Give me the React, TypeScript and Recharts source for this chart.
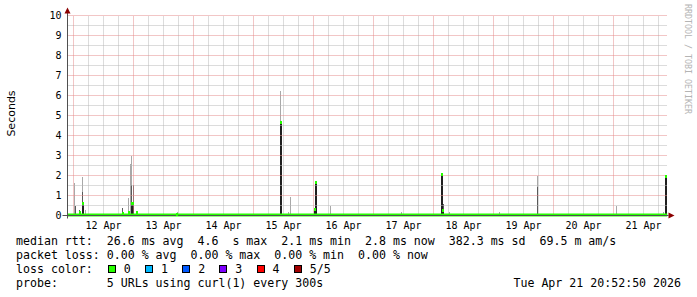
import React from 'react';
import { ComposedChart, Bar, Line, Scatter, XAxis, YAxis, ReferenceLine } from 'recharts';

// time axis in days: 12.0 = 12 Apr 00:00
const TIME_DOMAIN = [11.9, 21.9];
const RTT_DOMAIN = [0, 10];
const DAY_STARTS = [12, 13, 14, 15, 16, 17, 18, 19, 20, 21];
const DAY_LABELS = ['12 Apr', '13 Apr', '14 Apr', '15 Apr', '16 Apr', '17 Apr', '18 Apr', '19 Apr', '20 Apr', '21 Apr'];
const LABEL_TICKS = DAY_STARTS.map((d) => d + 0.5);
const SIX_HOUR_TICKS = DAY_STARTS.flatMap((d) => [d + 0.25, d + 0.5, d + 0.75]);
const Y_TICKS = [0, 1, 2, 3, 4, 5, 6, 7, 8, 9, 10];
const Y_HALF_TICKS = [0.5, 1.5, 2.5, 3.5, 4.5, 5.5, 6.5, 7.5, 8.5, 9.5];

// spikes (seconds)
const sampleTimes = [
  12.017, 12.033, 12.108, 12.15, 12.2, 12.817, 12.917, 12.942, 12.967, 12.992, 13.05, 13.417, 13.733, 15.45, 15.588,
  15.622, 15.867, 16.022, 16.04, 16.288, 17.467, 18.145, 18.16, 18.267, 19.105, 19.728, 21.045, 21.367, 21.838, 21.867,
];
const smokeHigh = [
  1.6, null, null, 1.92, 0.3, null, 0.9, 2.55, 3.0, null, null, 0.1, 0.15, 6.25, 0.15,
  0.92, 0.08, null, null, 0.47, 0.15, null, null, 0.2, 0.2, 2.0, 0.5, 0.1, 0.15, null,
];
const smokeCore = [
  null, 0.5, 0.3, 1.2, null, 0.4, null, null, 1.5, 1.5, 0.2, null, null, null, null,
  null, null, 0.4, null, null, null, null, 0.58, null, null, 1.42, null, null, null, null,
];
const medianRtt = [
  null, null, 0.2, 0.65, null, 0.12, 0.17, null, 0.65, 0.65, 0.15, null, 0.1, 4.67, null,
  null, null, 0.33, 1.67, null, null, 2.08, 0.25, null, null, null, null, null, null, 2.0,
];
const baselineTimes = [11.9, 21.9];
const baselineRtt = [0.027, 0.027];

const LOSS_LABELS = ['0', '1', '2', '3', '4', '5/5'];
const LOSS_COLORS = ['#26ff00', '#00b8ff', '#0059ff', '#7e00ff', '#ff0000', '#a10000'];

const rows = sampleTimes.map((t, i) => ({ t, high: smokeHigh[i], core: smokeCore[i], median: medianRtt[i] }));
const medianRows = rows.filter((r) => r.median != null);
const baselineRows = baselineTimes.map((t, i) => ({ t, median: baselineRtt[i] }));

const MONO = '"DejaVu Sans Mono", monospace';
const AXIS = '#505050';
const ARROW = '#8b0000';
const GRID = '#b8b8b8';
const MGRID = '#e48c8c';

const spike = (w: number, color: string) => (p: any) => {
  const { x, y, width, height } = p;
  if (x == null || isNaN(x) || !height || height <= 0) return <g />;
  const cx = x + width / 2;
  const left = w === 1 ? Math.floor(cx) : Math.round(cx) - w / 2;
  const top = Math.round(y);
  const bottom = Math.round(y + height);
  return <rect x={left} y={top} width={w} height={Math.max(bottom - top, 1)} fill={color} />;
};

const cap = (p: any) => {
  const { cx, cy } = p;
  if (cx == null || cy == null) return <g />;
  return <rect x={Math.round(cx) - 1} y={Math.round(cy) - 1} width={2} height={3} fill="#26ff00" />;
};

const XDecor = (p: any) => {
  const vb = p.viewBox;
  if (!vb) return null;
  const { x, y, width } = vb;
  const ex = x + width;
  return (
    <g>
      <line x1={x - 5} y1={y} x2={ex + 1} y2={y} stroke={AXIS} />
      <path d={`M${ex + 1},${y - 3} L${ex + 7},${y} L${ex + 1},${y + 3} Z`} fill={ARROW} />
    </g>
  );
};

const YDecor = (p: any) => {
  const vb = p.viewBox;
  if (!vb) return null;
  const { x, y, width, height } = vb;
  const ax = x + width;
  const tx = x + 2.5;
  const ty = y + height / 2 - 2;
  return (
    <g>
      <line x1={ax} y1={y - 2.5} x2={ax} y2={y + height + 3} stroke={AXIS} />
      <path d={`M${ax - 3},${y - 2} L${ax},${y - 8} L${ax + 3},${y - 2} Z`} fill={ARROW} />
      <text
        x={tx}
        y={ty}
        transform={`rotate(-90, ${tx}, ${ty})`}
        textAnchor="middle"
        dominantBaseline="central"
        fontFamily='"DejaVu Sans", sans-serif'
        fontSize={11}
        fill="#000"
      >
        Seconds
      </text>
    </g>
  );
};

const legendLine = (top: number): React.CSSProperties => ({
  position: 'absolute',
  left: 16,
  top,
  height: 14,
  lineHeight: '14px',
  fontFamily: MONO,
  fontSize: 11.6,
  whiteSpace: 'pre',
  color: '#000',
});

export default function App() {
  return (
    <div style={{ position: 'relative', width: 697, height: 297, background: '#fff', overflow: 'hidden' }}>
      <style>{'body{margin:0}'}</style>
      <ComposedChart
        width={697}
        height={240}
        data={rows}
        barGap={0}
        margin={{ top: 15.5, right: 29.5, left: 8.5, bottom: 0.5 }}
      >
        <XAxis
          xAxisId={0}
          type="number"
          dataKey="t"
          domain={TIME_DOMAIN}
          ticks={LABEL_TICKS}
          interval={0}
          allowDataOverflow
          height={24}
          axisLine={false}
          tickLine={false}
          tickSize={6}
          tickMargin={0}
          tick={{ fill: '#000', fontSize: 10, fontFamily: MONO }}
          tickFormatter={(v: number) => DAY_LABELS[DAY_STARTS.indexOf(Math.floor(v))]}
          label={(p: any) => <XDecor {...p} />}
        />
        <XAxis xAxisId="high" orientation="top" height={0} type="number" dataKey="t" domain={TIME_DOMAIN} allowDataOverflow hide />
        <XAxis xAxisId="core" orientation="top" height={0} type="number" dataKey="t" domain={TIME_DOMAIN} allowDataOverflow hide />
        <XAxis xAxisId="med" orientation="top" height={0} type="number" dataKey="t" domain={TIME_DOMAIN} allowDataOverflow hide />
        <YAxis
          yAxisId={0}
          type="number"
          domain={RTT_DOMAIN}
          ticks={Y_TICKS}
          interval={0}
          width={59}
          axisLine={false}
          tickLine={false}
          tickSize={6}
          tickMargin={0}
          tick={{ fill: '#000', fontSize: 10, fontFamily: MONO }}
          label={(p: any) => <YDecor {...p} />}
        />

        {SIX_HOUR_TICKS.map((d) => (
          <ReferenceLine key={`gx${d}`} xAxisId={0} x={d} stroke={GRID} strokeDasharray="1 1" />
        ))}
        {Y_HALF_TICKS.map((v) => (
          <ReferenceLine key={`gy${v}`} xAxisId={0} y={v} stroke={GRID} strokeDasharray="1 1" />
        ))}
        {DAY_STARTS.map((d) => (
          <ReferenceLine key={`mx${d}`} xAxisId={0} x={d} stroke={MGRID} strokeDasharray="1 1" />
        ))}
        {Y_TICKS.map((v) => (
          <ReferenceLine key={`my${v}`} xAxisId={0} y={v} stroke={MGRID} strokeDasharray="1 1" />
        ))}

        <Bar xAxisId="high" dataKey="high" isAnimationActive={false} shape={spike(1, '#a8a8a8')} />
        <Bar xAxisId="core" dataKey="core" isAnimationActive={false} shape={spike(1, '#5a5a5a')} />
        <Bar xAxisId="med" dataKey="median" isAnimationActive={false} shape={spike(2, '#202020')} />
        <Scatter xAxisId="med" data={medianRows} dataKey="median" isAnimationActive={false} shape={cap} />
        <Line
          xAxisId={0}
          data={baselineRows}
          dataKey="median"
          type="linear"
          stroke="#26ff00"
          strokeWidth={3}
          dot={false}
          activeDot={false}
          isAnimationActive={false}
        />
      </ComposedChart>

      <div
        style={{
          position: 'absolute',
          left: 683,
          top: 4,
          writingMode: 'vertical-rl',
          fontFamily: MONO,
          fontSize: 8.3,
          lineHeight: '10px',
          color: '#b4b4b4',
          whiteSpace: 'pre',
        }}
      >
        RRDTOOL / TOBI OETIKER
      </div>

      <div style={legendLine(234)}>
        {'median rtt:  26.6 ms avg  4.6  s max  2.1 ms min  2.8 ms now  382.3 ms sd  69.5 m am/s'}
      </div>
      <div style={legendLine(248)}>{'packet loss: 0.00 % avg  0.00 % max  0.00 % min  0.00 % now'}</div>
      <div style={{ ...legendLine(262), display: 'flex' }}>
        <span>{'loss color:  '}</span>
        {LOSS_LABELS.map((lab, i) => (
          <span key={lab} style={{ display: 'inline-block', width: i < LOSS_LABELS.length - 1 ? 37.2 : undefined }}>
            <span
              style={{
                display: 'inline-block',
                width: 8,
                height: 8,
                marginLeft: 1,
                boxSizing: 'border-box',
                border: '1px solid #000',
                background: LOSS_COLORS[i],
                verticalAlign: 'baseline',
              }}
            />
            <span style={{ marginLeft: 8 }}>{lab}</span>
          </span>
        ))}
      </div>
      <div style={legendLine(276)}>{'probe:       5 URLs using curl(1) every 300s'}</div>
      <div style={{ ...legendLine(276), left: undefined, right: 16 }}>{'Tue Apr 21 20:52:50 2026'}</div>
    </div>
  );
}
